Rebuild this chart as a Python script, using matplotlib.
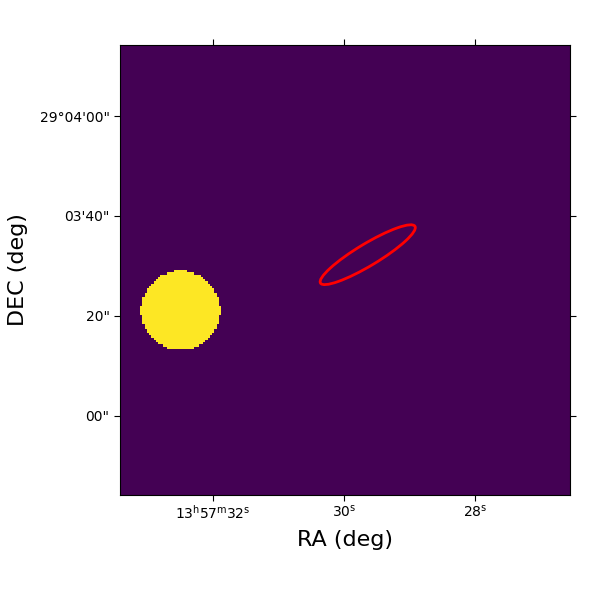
import numpy as np
import matplotlib
matplotlib.use("Agg")
import matplotlib.pyplot as plt
from matplotlib.patches import Ellipse

# image grid (pixels) and approximate sky frame
NPIX = 200
PIX_SCALE = 0.45            # arcsec per pixel
RA_CENTER_SEC = 29.99       # 13h57m + seconds at image centre
DEC_CENTER_ARCSEC = 209.2   # 29d + arcsec at image centre
DEC_DEG = 29.058

# source: filled disc in the image
src_x, src_y, src_r = 26.5, 81.6, 17.6

# region: red ellipse (pixels)
ell_x, ell_y = 109.6, 106.3
ell_w, ell_h, ell_angle = 49.0, 9.8, 31

# ticks
ra_ticks_sec = [32, 30, 28]
ra_tick_labels = [r"13$^{\mathrm{h}}$57$^{\mathrm{m}}$32$^{\mathrm{s}}$",
                  r"30$^{\mathrm{s}}$", r"28$^{\mathrm{s}}$"]
dec_ticks_arcsec = [240, 220, 200, 180]
dec_tick_labels = ["29°04'00\"", "03'40\"", "20\"", "00\""]

# build image
yy, xx = np.mgrid[0:NPIX, 0:NPIX]
img = ((xx - src_x) ** 2 + (yy - src_y) ** 2 <= src_r ** 2).astype(float)

ra_sec_per_pix = PIX_SCALE / (15 * np.cos(np.radians(DEC_DEG)))
cen = (NPIX - 1) / 2


def ra_to_x(s):
    return cen - (s - RA_CENTER_SEC) / ra_sec_per_pix


def dec_to_y(a):
    return cen + (a - DEC_CENTER_ARCSEC) / PIX_SCALE


fig = plt.figure(figsize=(6, 6), dpi=100)
ax = fig.add_axes([0.2, 0.175, 0.75, 0.75])
ax.imshow(img, origin="lower", cmap="viridis", interpolation="nearest")

ax.add_patch(Ellipse((ell_x, ell_y), ell_w, ell_h, angle=ell_angle,
                     edgecolor="red", facecolor="none", lw=2))

ax.set_xticks([ra_to_x(s) for s in ra_ticks_sec])
ax.set_xticklabels(ra_tick_labels)
ax.set_yticks([dec_to_y(a) for a in dec_ticks_arcsec])
ax.set_yticklabels(dec_tick_labels)
ax.tick_params(direction="out", top=True, right=True, labelsize=10, length=4)
ax.tick_params(axis="x", pad=2)
ax.set_xlim(-0.5, NPIX - 0.5)
ax.set_ylim(-0.5, NPIX - 0.5)

ax.set_xlabel("RA (deg)", fontsize=16, labelpad=6)
ax.set_ylabel("DEC (deg)", fontsize=16, labelpad=8)

fig.savefig("out.png", dpi=100)
